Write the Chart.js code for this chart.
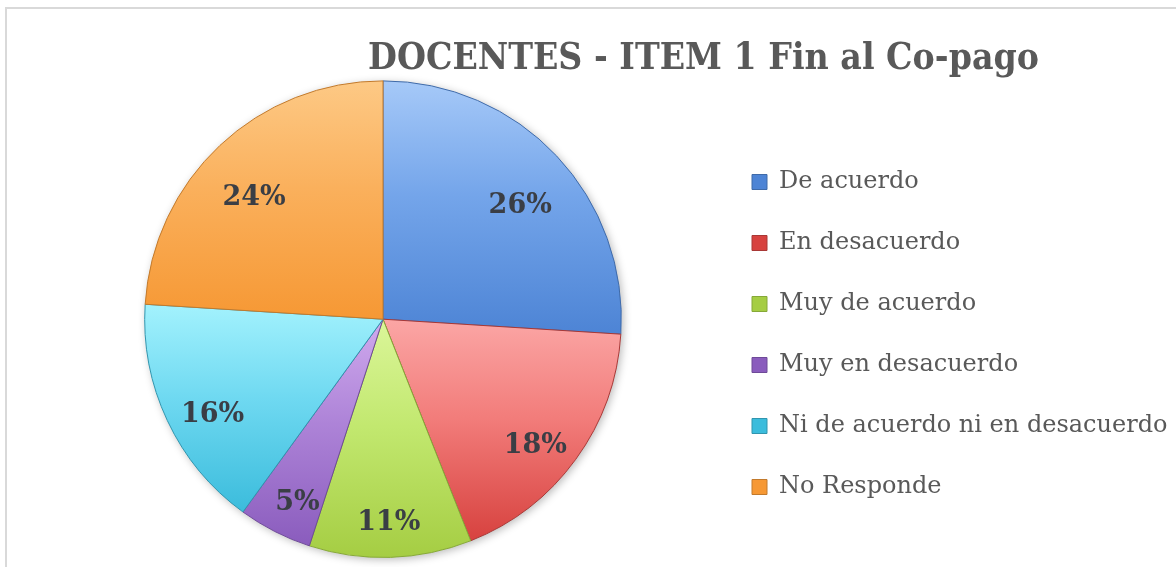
<!DOCTYPE html>
<html lang="es">
<head>
	<meta charset="UTF-8">
	<title>DOCENTES - ITEM 1 Fin al Co-pago</title>
	<script src="https://cdn.jsdelivr.net/npm/chart.js"></script>
	<style>
		html, body { margin: 0; padding: 0; background: #fff; }
		#wrap { position: relative; width: 1176px; height: 567px; overflow: hidden; }
		#frame { position: absolute; left: 5px; top: 7px; width: 1250px; height: 650px; border: 2px solid #d9d9d9; }
		#grafico { position: absolute; left: 0; top: 0; }
	</style>
</head>
<body>

<div id="wrap">
	<div id="frame"></div>
	<canvas id="grafico" width="1176" height="567"></canvas>
</div>

<script>
// datos
const titulo = 'DOCENTES - ITEM 1 Fin al Co-pago';
const categorias = ['De acuerdo', 'En desacuerdo', 'Muy de acuerdo', 'Muy en desacuerdo', 'Ni de acuerdo ni en desacuerdo', 'No Responde'];
const porcentajes = [26, 18, 11, 5, 16, 24];

// colores: parte alta clara, parte baja oscura (degradado tipo Excel)
const claros  = ['#a6c9f8', '#fba6a5', '#dbf69a', '#d0aaee', '#a3f2fd', '#fdc985'];
const medios  = ['#74a5ea', '#f27c7a', '#c2e86f', '#ae84d8', '#6fd9f1', '#fab05c'];
const oscuros = ['#4d84d5', '#d7423f', '#a5cd43', '#8a5cbd', '#3bbcdc', '#f69834'];
const bordes  = ['#3f6aa8', '#a83836', '#86a838', '#6e4a98', '#3195ae', '#c27a2c'];

const serif = '"DejaVu Serif", "Liberation Serif", serif';
const serifCond = '"DejaVu Serif Condensed", "DejaVu Serif", serif';


// sombra suave del pastel + degradado vertical por porcion
const degradado = {
	id: 'degradado',
	beforeDatasetsDraw(chart) {
		const ctx = chart.ctx;
		const arcs = chart.getDatasetMeta(0).data;
		if (arcs.length) {
			ctx.save();
			ctx.shadowColor = 'rgba(0,0,0,0.28)';
			ctx.shadowBlur = 8;
			ctx.shadowOffsetX = 2;
			ctx.shadowOffsetY = 2;
			ctx.fillStyle = '#ffffff';
			ctx.beginPath();
			ctx.arc(arcs[0].x, arcs[0].y, arcs[0].outerRadius, 0, Math.PI * 2);
			ctx.fill();
			ctx.restore();
		}
		arcs.forEach((arc, i) => {
			const { x, y, startAngle, endAngle, outerRadius } = arc;
			const ys = [y, y + Math.sin(startAngle) * outerRadius, y + Math.sin(endAngle) * outerRadius];
			[-Math.PI / 2, Math.PI / 2, 3 * Math.PI / 2].forEach(a => {
				if (a >= startAngle && a <= endAngle) ys.push(y + Math.sin(a) * outerRadius);
			});
			const g = ctx.createLinearGradient(0, Math.min(...ys), 0, Math.max(...ys));
			g.addColorStop(0, claros[i]);
			g.addColorStop(0.45, medios[i]);
			g.addColorStop(1, oscuros[i]);
			arc.options = Object.assign({}, arc.options, { backgroundColor: g });
		});
	}
};

// etiquetas de porcentaje dentro de cada porcion
const etiquetas = {
	id: 'etiquetas',
	afterDatasetsDraw(chart) {
		const ctx = chart.ctx;
		const total = porcentajes.reduce((a, b) => a + b, 0);
		ctx.save();
		ctx.font = 'bold 27px ' + serif;
		ctx.fillStyle = '#3a3e45';
		ctx.textAlign = 'center';
		ctx.textBaseline = 'middle';
		chart.getDatasetMeta(0).data.forEach((arc, i) => {
			const mid = (arc.startAngle + arc.endAngle) / 2;
			const r = arc.outerRadius * 0.79;
			const txt = Math.round(porcentajes[i] / total * 100) + '%';
			ctx.fillText(txt, arc.x + Math.cos(mid) * r, arc.y + Math.sin(mid) * r + 16);
		});
		ctx.restore();
	}
};

// ancho fijo para la leyenda, asi el pastel queda a la izquierda
const anchoLeyenda = {
	id: 'anchoLeyenda',
	beforeInit(chart) {
		const fit = chart.legend.fit;
		chart.legend.fit = function () {
			fit.bind(chart.legend)();
			this.width = 461;
		};
	},
	afterLayout(chart) {
		// titulo centrado sobre la zona derecha como en el original
		chart.titleBlock.left = 231;
		chart.titleBlock.right = 1176;
	}
};


new Chart(document.getElementById('grafico'), {
	type: 'pie',
	data: {
		labels: categorias,
		datasets: [{
			data: porcentajes,
			backgroundColor: oscuros,
			borderColor: bordes,
			borderWidth: 1
		}]
	},
	options: {
		responsive: false,
		animation: false,
		events: [],
		layout: { padding: { left: 51, right: 0, top: 0, bottom: 9 } },
		plugins: {
			title: {
				display: true,
				text: titulo,
				color: '#595959',
				font: { family: serifCond, size: 37, weight: 'bold', lineHeight: 1.2 },
				padding: { top: 37, bottom: -1 }
			},
			legend: {
				position: 'right',
				align: 'start',
				title: {
					display: true,
					text: '',
					font: { size: 10, lineHeight: 1 },
					padding: { top: 123, bottom: 0 }
				},
				labels: {
					boxWidth: 15,
					boxHeight: 15,
					padding: 37,
					color: '#595959',
					font: { family: serif, size: 24 }
				}
			},
			tooltip: { enabled: false }
		}
	},
	plugins: [degradado, etiquetas, anchoLeyenda]
});
</script>

</body>
</html>
